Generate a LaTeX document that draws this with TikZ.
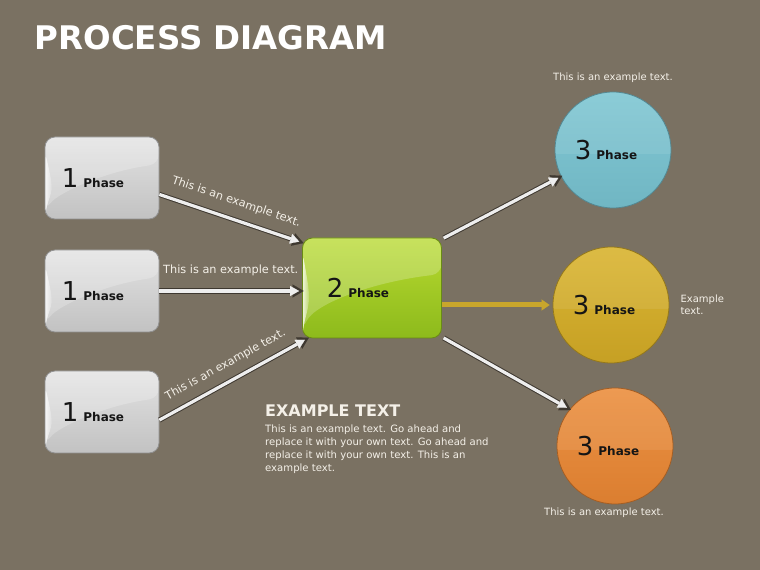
\documentclass[tikz,border=0pt]{standalone}
\usepackage{fontspec}
\setmainfont{DejaVu Sans}
\usetikzlibrary{positioning,arrows.meta,fadings}
\definecolor{PDBack}{HTML}{7A7162}
\definecolor{PDText}{HTML}{F4F0E8}
\definecolor{PDInk}{HTML}{151515}
\definecolor{PDShade}{HTML}{3E3830}
\definecolor{PDBar}{HTML}{EEEEEE}
\definecolor{PDGold}{HTML}{C9A62C}
\definecolor{GrayTop}{HTML}{E2E2E2}
\definecolor{GrayBot}{HTML}{C2C2C2}
\definecolor{LimeTop}{HTML}{B8DA30}
\definecolor{LimeBot}{HTML}{8DBA1C}
\definecolor{CyanTop}{HTML}{82C8D4}
\definecolor{CyanBot}{HTML}{70B6C3}
\definecolor{GoldTop}{HTML}{DAB634}
\definecolor{GoldBot}{HTML}{C6A024}
\definecolor{OrangeTop}{HTML}{EC9244}
\definecolor{OrangeBot}{HTML}{DB7E30}
\tikzset{
  phasebox/.style 2 args={draw=#2!75!black,line width=0.8pt,rounded corners=10pt,
    top color=#1,bottom color=#2,text=PDInk,
    path picture={
      \fill[white,opacity=.22] (path picture bounding box.north west)
        -- (path picture bounding box.north east)
        -- ([yshift=14pt]path picture bounding box.east)
        .. controls ([yshift=6pt]path picture bounding box.center)
        and ([xshift=12pt,yshift=-16pt]path picture bounding box.west)
        .. ([yshift=8pt]path picture bounding box.south west) -- cycle;
      \fill[white,opacity=.8,path fading=east] ([yshift=8pt]path picture bounding box.south west)
        .. controls ([xshift=8pt,yshift=-10pt]path picture bounding box.west)
        .. ([yshift=-14pt]path picture bounding box.north west)
        -- (path picture bounding box.south west) -- cycle;
    }},
  phaseball/.style 2 args={circle,draw=#2!75!black,line width=0.8pt,minimum size=116pt,
    top color=#1,bottom color=#2,text=PDInk,
    path picture={
      \fill[white,opacity=.08] ([yshift=-4pt]path picture bounding box.west)
        rectangle (path picture bounding box.north east);
    }},
  flowarrow/.style={draw=PDBar,line width=3.2pt,
    -{Triangle[length=9pt,width=10pt,line width=0.1pt]},
    preaction={draw=PDShade,line width=5.2pt,
      -{Triangle[length=11pt,width=13pt,line width=0.1pt]},shorten >=-1.5pt}},
  goldarrow/.style={draw=PDGold,line width=5pt,
    -{Triangle[length=8pt,width=11pt,line width=0.1pt]}},
  note/.style={font=\fontsize{10}{12}\selectfont,text=PDText},
  arrownote/.style={font=\fontsize{11.3}{13}\selectfont,text=PDText}
}
\newcommand{\phasetext}[2]{{\fontsize{26}{26}\selectfont #1}\hspace{5pt}{\bfseries\fontsize{12}{12}\selectfont Phase}\hspace*{#2}}

\begin{document}
\begin{tikzpicture}[x=1pt,y=1pt]
  \fill[PDBack] (0,0) rectangle (760,570);
  \useasboundingbox (0,0) rectangle (760,570);

  \node[anchor=west,text=white,font=\bfseries\fontsize{32.5}{32}\selectfont] (title) at (31,532) {PROCESS DIAGRAM};

  % phase 1
  \node[phasebox={GrayTop}{GrayBot},minimum width=114pt,minimum height=82pt] (p1a) at (102,392) {\phasetext{1}{18pt}};
  \node[phasebox={GrayTop}{GrayBot},minimum width=114pt,minimum height=82pt] (p1b) at (102,279) {\phasetext{1}{18pt}};
  \node[phasebox={GrayTop}{GrayBot},minimum width=114pt,minimum height=82pt] (p1c) at (102,158) {\phasetext{1}{18pt}};

  % phase 2
  \node[phasebox={LimeTop}{LimeBot},minimum width=139pt,minimum height=100pt] (p2) at (372,282) {\phasetext{2}{28pt}};

  % phase 3
  \node[phaseball={CyanTop}{CyanBot}] (c1) at (613,420) {\phasetext{3}{14pt}};
  \node[phaseball={GoldTop}{GoldBot}] (c2) at (611,265) {\phasetext{3}{14pt}};
  \node[phaseball={OrangeTop}{OrangeBot}] (c3) at (615,124) {\phasetext{3}{14pt}};

  \draw[flowarrow,shorten >=3pt] (p1a.-16) -- (p2.147)
    node[midway,sloped,above=7pt,arrownote] {This is an example text.};
  \draw[flowarrow,shorten >=3pt] (p1b.east) -- (p1b.east -| p2.west)
    node[midway,above=10pt,arrownote] {This is an example text.};
  \draw[flowarrow,shorten >=3pt] (p1c.-8) -- (p2.218)
    node[midway,sloped,above=6pt,arrownote] {This is an example text.};

  \draw[flowarrow,shorten <=2pt,shorten >=3pt] (p2.35) -- (c1.207);
  \draw[goldarrow,shorten >=3pt] (c2.west -| p2.east) -- (c2.west);
  \draw[flowarrow,shorten <=2pt,shorten >=3pt] (p2.-35) -- (c3.141);

  \node[note] (n1) at (613,492) {This is an example text.};
  \node[note,anchor=west,align=left] (n2) at (677,265) {Example\\text.};
  \node[note] (n3) at (604,57) {This is an example text.};

  \node[anchor=west,text=PDText,font=\bfseries\fontsize{16}{16}\selectfont,inner sep=0pt] (head) at (265,159) {EXAMPLE TEXT};
  \node[note,anchor=north west,align=left,inner sep=0pt,font=\fontsize{10.1}{13}\selectfont] (body) at (265,145)
    {This is an example text. Go ahead and\\replace it with your own text. Go ahead and\\replace it with your own text. This is an\\example text.};
\end{tikzpicture}
\end{document}
